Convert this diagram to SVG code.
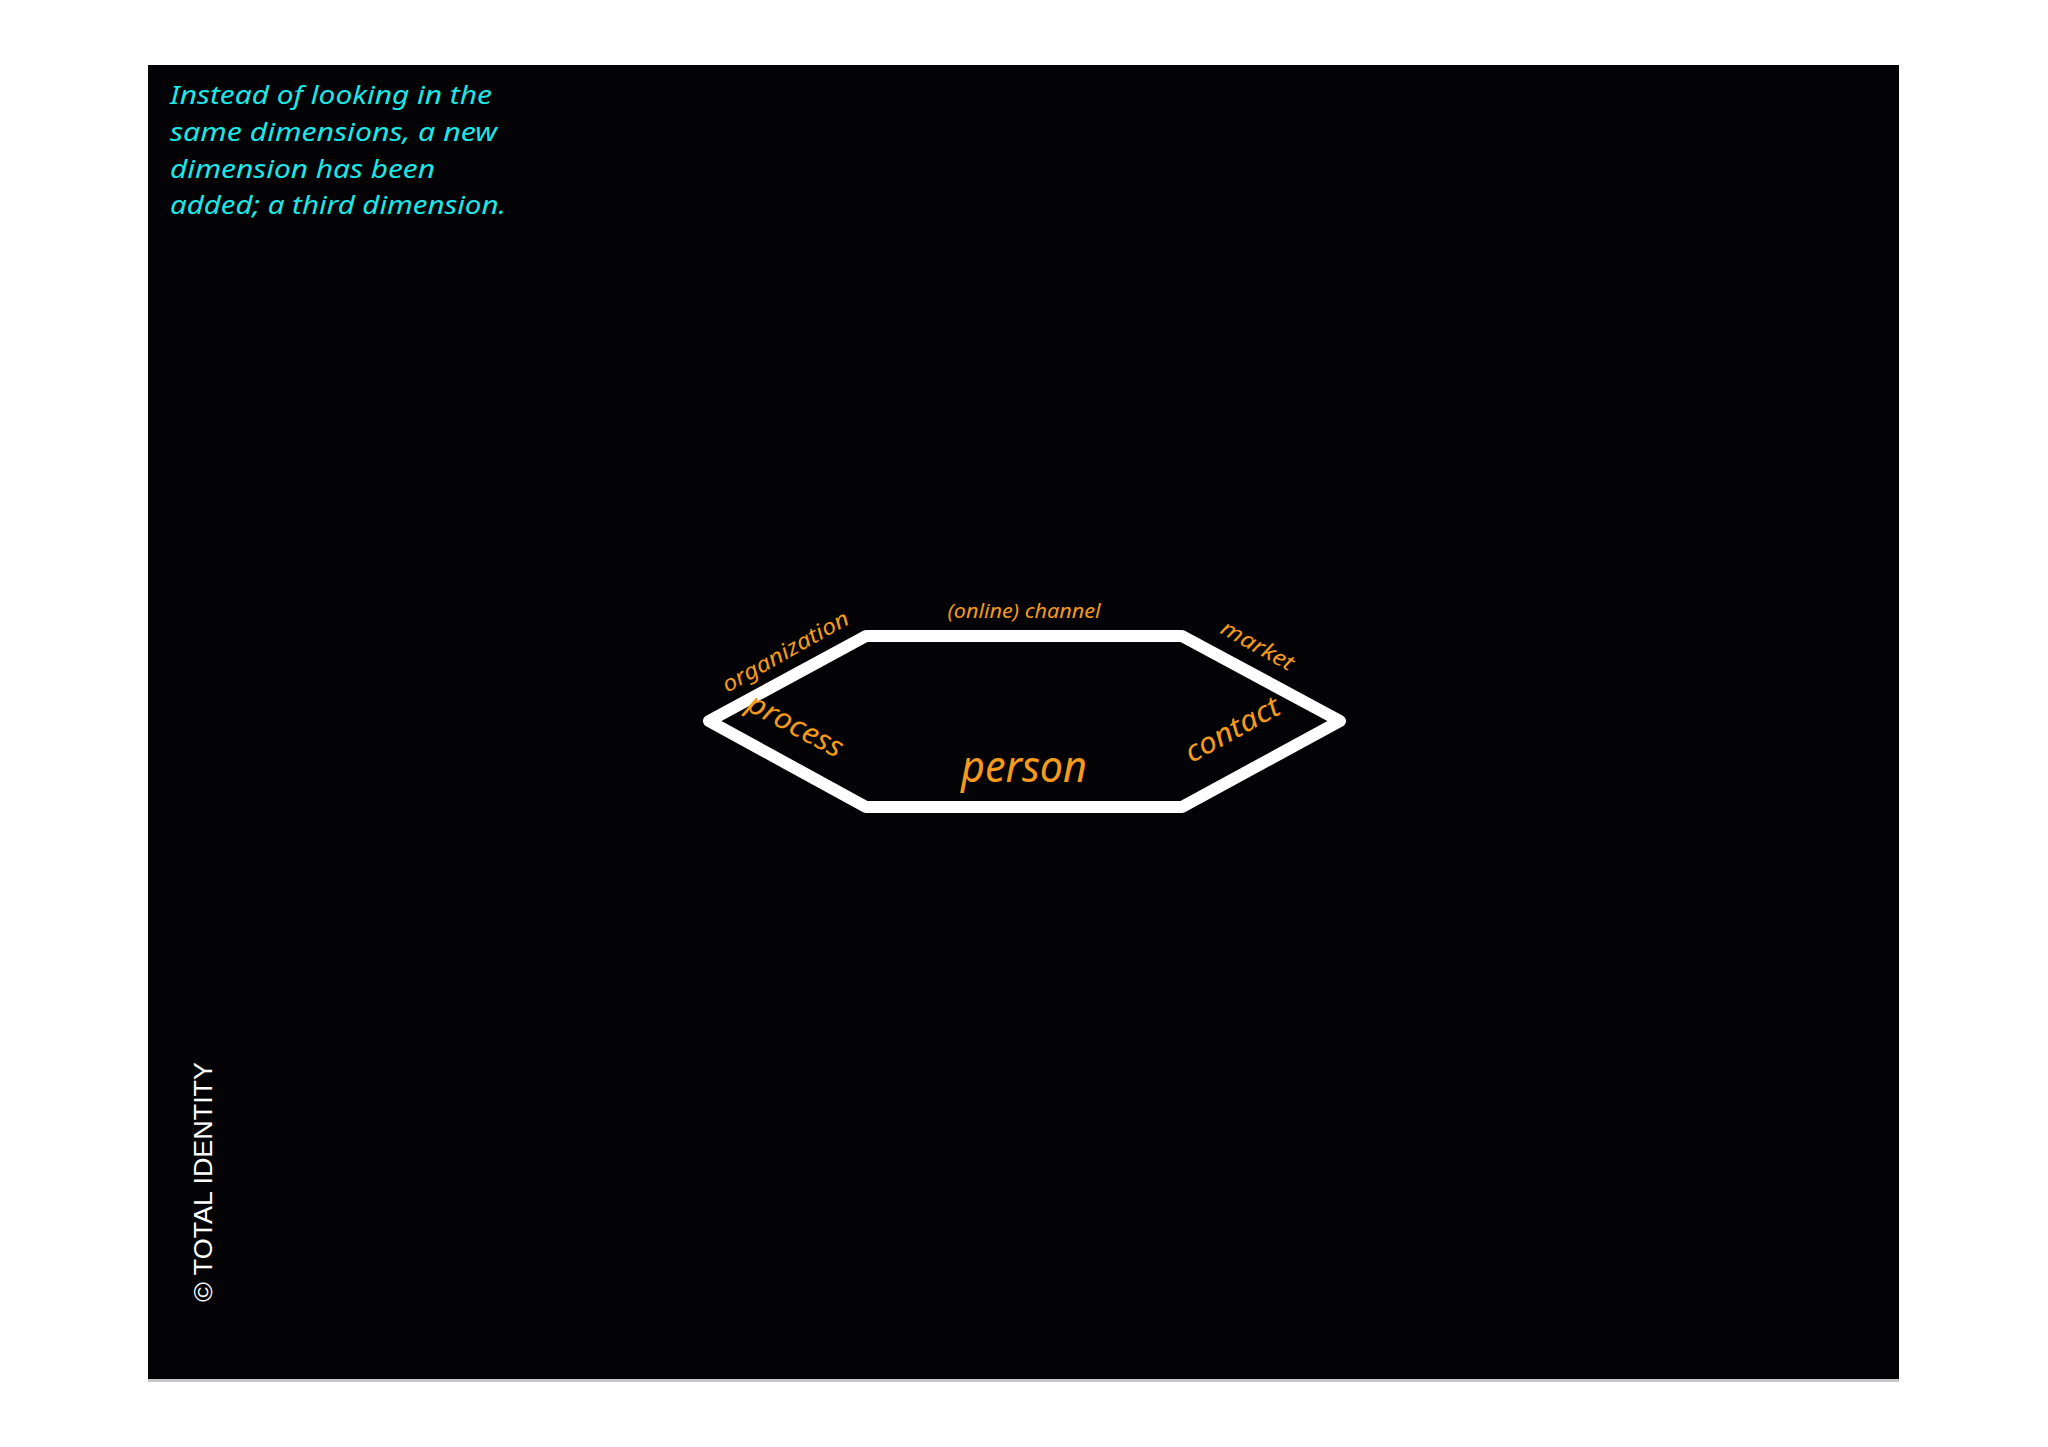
<svg xmlns="http://www.w3.org/2000/svg" width="2048" height="1447" viewBox="0 0 2048 1447">
<style>
.intro{font-family:"Noto Sans","Open Sans",sans-serif;font-style:italic;font-size:25px;fill:#1fe6e6}
.lbl{font-family:"Noto Sans","Open Sans",sans-serif;font-style:italic;fill:#f59a1c;text-anchor:middle}
.copy{font-family:"Liberation Sans",Arial,sans-serif;font-size:25px;fill:#ffffff}
</style>
<rect x="0" y="0" width="2048" height="1447" fill="#ffffff"/>
<rect x="148" y="65" width="1751" height="1314" fill="#030305"/>
<rect x="148" y="1379" width="1751" height="3" fill="#c8c8c8"/>
<g id="intro-text" class="intro">
<text x="170" y="104" textLength="322" lengthAdjust="spacingAndGlyphs">Instead of looking in the</text>
<text x="170" y="141" textLength="327" lengthAdjust="spacingAndGlyphs">same dimensions, a new</text>
<text x="170" y="178" textLength="265" lengthAdjust="spacingAndGlyphs">dimension has been</text>
<text x="170" y="214" textLength="336" lengthAdjust="spacingAndGlyphs">added; a third dimension.</text>
</g>
<g id="connectors">
<polygon id="hexagon" points="709,721 866,636 1182,636 1340,721 1182,807 866,807" fill="none" stroke="#ffffff" stroke-width="12" stroke-linejoin="round"/>
</g>
<g id="node-channel"><text class="lbl" x="1024" y="618" font-size="19" textLength="153" lengthAdjust="spacingAndGlyphs">(online) channel</text></g>
<g id="node-person"><text class="lbl" x="1024" y="782" font-size="43" textLength="126" lengthAdjust="spacingAndGlyphs">person</text></g>
<g id="node-organization"><text class="lbl" font-size="22" transform="translate(789,658) rotate(-29.5)" x="0" y="0" textLength="142" lengthAdjust="spacingAndGlyphs">organization</text></g>
<g id="node-process"><text class="lbl" font-size="29" transform="translate(791,734) rotate(28)" x="0" y="0" textLength="104" lengthAdjust="spacingAndGlyphs">process</text></g>
<g id="node-market"><text class="lbl" font-size="22" transform="translate(1254,652) rotate(29)" x="0" y="0" textLength="80" lengthAdjust="spacingAndGlyphs">market</text></g>
<g id="node-contact"><text class="lbl" font-size="29" transform="translate(1237,738) rotate(-29)" x="0" y="0" textLength="104" lengthAdjust="spacingAndGlyphs">contact</text></g>
<g id="copyright"><text class="copy" transform="translate(212,1302) rotate(-90)" x="0" y="0" textLength="240" lengthAdjust="spacingAndGlyphs">© TOTAL IDENTITY</text></g>
</svg>
